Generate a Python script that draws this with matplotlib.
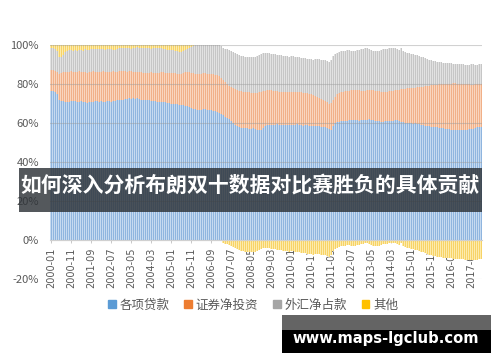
import numpy as np
import pandas as pd
import matplotlib
matplotlib.use('Agg')
import matplotlib.pyplot as plt
from matplotlib.patches import Rectangle, Patch

plt.rcParams['font.family'] = ['Noto Sans CJK SC', 'DejaVu Sans']

# monthly categories 2000-01 .. 2017-12
months = pd.period_range('2000-01', '2017-12', freq='M').strftime('%Y-%m').tolist()
tick_step = 10

series_names = ['各项贷款', '证券净投资', '外汇净占款', '其他']

# shares in percent (100% stacked)
loans = [
    76.5, 76.5, 76, 75, 72, 71.5, 71.5, 71, 71, 71, 71.5, 71.5,
    71.5, 71, 71, 71.5, 71, 71, 70.5, 71, 71, 71, 71.5, 71.5,
    71, 71.5, 71, 71, 71.5, 71.5, 71, 71.5, 71.5, 72, 72, 72,
    72, 72.5, 72.5, 73, 72.5, 73, 72.5, 73, 72.5, 72, 72, 72,
    72, 72, 71.5, 71.5, 71.5, 71, 71, 71, 71, 71, 70.5, 70.5,
    70, 70, 69.5, 69.5, 69, 69, 69, 68.5, 68.5, 68, 67.5, 67,
    67, 66.5, 66.5, 66.5, 67, 67, 66.5, 66.5, 66.5, 66, 66, 65.5,
    65, 64.5, 64, 63, 62.5, 62, 61, 60, 59, 58.5, 58, 57.5,
    57.5, 57.5, 57.5, 57, 57, 57.5, 57, 56.5, 56.5, 56.5, 57.5, 58.5,
    59, 59, 59, 59, 59, 59.5, 59, 59, 59, 59, 59, 59,
    59, 59, 59, 59.5, 59, 59, 58.5, 59, 59, 58.5, 58.5, 58.5,
    58.5, 58.5, 58.5, 58, 58, 58, 57.5, 57, 56.5, 58.5, 60, 60.5,
    60.5, 61, 61, 61, 61, 61.5, 61.5, 61.5, 61.5, 61.5, 61, 61.5,
    61.5, 61.5, 61.5, 62, 61.5, 61.5, 61, 61, 61, 60.5, 60.5, 61,
    61, 61, 61, 61, 61.5, 61.5, 61, 60.5, 60.5, 60, 60, 60,
    60, 59.5, 60, 59.5, 59.5, 59, 59, 58.5, 58.5, 58.5, 58, 58,
    58, 58, 57.5, 57.5, 57.5, 57, 57, 57, 56.5, 56.5, 56.5, 56.5,
    56.5, 56.5, 56.5, 56.5, 56.5, 57, 57, 57, 57.5, 58, 58, 58,
]
securities = [
    10.5, 10.5, 10.5, 11, 13, 14, 14.5, 15, 15, 15, 15, 14.5,
    14.5, 15, 15.5, 14.5, 15, 15, 15, 15, 15, 15.5, 14.5, 14.5,
    15, 14.5, 15.5, 15, 14.5, 14.5, 15, 15, 14.5, 14, 14.5, 14.5,
    14.5, 14, 13.5, 13.5, 14, 13, 13.5, 13, 13.5, 14, 13.5, 13.5,
    13.5, 13.5, 14.5, 14, 14, 14.5, 14.5, 15, 15, 14.5, 15, 15,
    15.5, 15.5, 16, 15.5, 16, 16, 16.5, 17.5, 17.5, 18, 18, 18.5,
    18, 18.5, 18.5, 18.5, 18.5, 18.5, 18.5, 18.5, 18.5, 19, 18.5, 19,
    19, 18.5, 18, 18, 17.5, 17, 17.5, 18, 18.5, 18.5, 18.5, 19,
    18.5, 18.5, 18.5, 19, 18.5, 18, 18.5, 19, 19.5, 19.5, 19, 18,
    18, 18, 18, 17.5, 17.5, 17, 17, 17, 17, 17, 17, 17,
    17, 17, 17, 16.5, 17, 17, 17, 16.5, 16.5, 16.5, 16.5, 16,
    15.5, 15, 14.5, 14.5, 14, 13.5, 13.5, 13, 14, 13.5, 13.5, 14.5,
    15, 15, 15, 15.5, 15.5, 15, 15.5, 15.5, 15.5, 15.5, 16, 15,
    15, 15, 15.5, 15, 15.5, 15.5, 15.5, 15.5, 15.5, 15.5, 15.5, 15,
    15, 15.5, 15.5, 15.5, 15.5, 15.5, 16, 17, 17, 17.5, 18, 18,
    18, 18.5, 18, 19, 19, 19.5, 19.5, 20.5, 20.5, 20.5, 21.5, 21.5,
    21.5, 21.5, 22.5, 22.5, 22.5, 23, 23, 23, 23.5, 24, 24, 23.5,
    23.5, 23.5, 23.5, 23.5, 23.5, 23, 22.5, 22.5, 22.5, 22, 22, 22,
]
fx = [
    11.5, 11.5, 11.5, 11, 9, 8.5, 9, 10.5, 11, 11.5, 11, 11,
    11.5, 11, 11, 11.5, 11, 12, 12, 11.5, 12, 11.5, 12, 12,
    12, 12, 11.5, 11.5, 12, 12, 12, 11, 11.5, 12, 12, 12,
    12, 12, 12.5, 12, 11.5, 12.5, 12.5, 13, 12.5, 12.5, 13, 13,
    13, 13, 12, 13, 13, 13, 13, 12.5, 12, 12.5, 12, 12,
    12, 12, 11.5, 12, 11.5, 11.5, 11.5, 11.5, 12, 12.5, 13.5, 14,
    15, 15, 15, 15, 14.5, 14.5, 15, 15, 15, 15, 15.5, 15.5,
    16, 16.5, 16.5, 17, 18, 18.5, 18.5, 18.5, 18.5, 18.5, 18.5, 18,
    18.5, 18, 18, 18, 18.5, 18.5, 18.5, 19, 19, 19.5, 19.5, 19.5,
    19, 19, 18.5, 19, 19, 18.5, 19, 19, 18.5, 18.5, 18.5, 18,
    18.5, 18.5, 18, 18, 18, 17.5, 18, 18, 17.5, 18, 18, 18,
    19, 19.5, 20, 20, 20.5, 21, 21, 21.5, 22, 22.5, 22, 21,
    21, 21, 21, 20.5, 21, 21, 20, 20, 20, 20.5, 20.5, 21.5,
    21.5, 22, 21.5, 21, 20.5, 20, 20.5, 20.5, 20.5, 21.5, 22, 22,
    22, 22, 22, 22, 21.5, 21, 20.5, 21, 19.5, 19, 18, 18,
    17.5, 17.5, 17, 16.5, 16, 15.5, 15.5, 14.5, 14, 13.5, 13, 12.5,
    12.5, 12, 11.5, 11.5, 11, 11, 11, 11, 11, 10, 10, 10.5,
    10.5, 10.5, 10.5, 10, 10, 10, 10.5, 10.5, 9.5, 10, 10.5, 10.5,
]
other = [
    1.5, 1.5, 2, 3, 6, 6, 5, 3.5, 3, 2.5, 2.5, 3,
    2.5, 3, 2.5, 2.5, 3, 2, 2.5, 2.5, 2, 2, 2, 2,
    2, 2, 2, 2.5, 2, 2, 2, 2.5, 2.5, 2, 1.5, 1.5,
    1.5, 1.5, 1.5, 1.5, 2, 1.5, 1.5, 1, 1.5, 1.5, 1.5, 1.5,
    1.5, 1.5, 2, 1.5, 1.5, 1.5, 1.5, 1.5, 2, 2, 2.5, 2.5,
    2.5, 2.5, 3, 3, 3.5, 3.5, 3, 2.5, 2, 1.5, 1, 0.5,
    0, 0, 0, 0, 0, 0, 0, 0, 0, 0, 0, 0,
    0, -0.5, -1.5, -2, -2, -2.5, -3, -3.5, -4, -4.5, -5, -5.5,
    -5.5, -6, -6, -6, -6, -6, -6, -5.5, -5, -4.5, -4, -4,
    -4, -4, -4.5, -4.5, -4.5, -5, -5, -5, -5.5, -5.5, -5.5, -6,
    -5.5, -5.5, -6, -6, -6, -6.5, -6.5, -6.5, -7, -7, -7, -7.5,
    -7, -7, -7, -7.5, -7.5, -7.5, -8, -8.5, -7.5, -5.5, -4.5, -4,
    -3.5, -3, -3, -3, -2.5, -2.5, -3, -3, -3, -2.5, -2.5, -2,
    -2, -1.5, -1.5, -2, -2.5, -3, -3, -3, -3, -2.5, -2, -2,
    -2, -1.5, -1.5, -1.5, -1.5, -2, -2.5, -1.5, -3, -3.5, -4, -4,
    -4.5, -4.5, -5, -5, -5.5, -6, -6, -6.5, -7, -7.5, -7.5, -8,
    -8, -8.5, -8.5, -8.5, -9, -9, -9, -9, -9, -9.5, -9.5, -9.5,
    -9.5, -9.5, -9.5, -10, -10, -10, -10, -10, -10.5, -10, -9.5, -9.5,
]

legend_colors = ['#5B9BD5', '#ED7D31', '#A5A5A5', '#FFC000']
light_colors = ['#c6daf0', '#f9d6bf', '#e2e2e2', '#fdebad']
stripe_colors = ['#8fb5df', '#f1b088', '#c6c6c6', '#f7d366']

fig = plt.figure(figsize=(5, 3.62), dpi=100)
# 432 px wide -> exactly 2 px per month
ax = fig.add_axes([50 / 500, 1 - 279 / 362, 432 / 500, 234 / 362])

x = np.arange(len(months))
vals = [np.array(v, dtype=float) for v in (loans, securities, fx, other)]

pos_bottom = np.zeros(len(x))
for v, lc, sc in zip(vals, light_colors, stripe_colors):
    bottom = np.where(v >= 0, pos_bottom, 0)
    ax.bar(x, v, width=1.0, bottom=bottom, color=lc, linewidth=0, zorder=2)
    ax.bar(x, v, width=0.5, bottom=bottom, align='edge', color=sc,
           linewidth=0, zorder=2)
    pos_bottom = pos_bottom + np.where(v > 0, v, 0)

# gridlines (visible through the bars)
for yv in range(-20, 101, 20):
    ax.axhline(yv, color='#9a9a9a', lw=0.8, alpha=0.45, zorder=3)

ax.set_xlim(-0.5, len(x) - 0.5)
ax.set_ylim(-20, 100)
ax.set_yticks(range(-20, 101, 20))
ax.set_yticklabels([f'{v}%' for v in range(-20, 101, 20)])
ax.tick_params(axis='y', length=0, pad=8, labelsize=8, labelcolor='#595959')

for s in ['top', 'right', 'left']:
    ax.spines[s].set_visible(False)
ax.spines['bottom'].set_position(('data', 0))
ax.spines['bottom'].set_color('#d0d0d0')
ax.spines['bottom'].set_zorder(4)

ticks = x[::tick_step]
ax.set_xticks(ticks)
ax.set_xticklabels([months[i] for i in ticks], rotation=90)
ax.tick_params(axis='x', length=2.5, width=0.6, color='#bfbfbf', pad=3,
               labelsize=7, labelcolor='#595959')
for lab in ax.get_xticklabels():
    lab.set_family('DejaVu Sans')

handles = [Patch(color=c, label=n) for c, n in zip(legend_colors, series_names)]
fig.legend(handles=handles, loc='center', bbox_to_anchor=(253 / 500, 1 - 305 / 362),
           ncol=4, frameon=False, fontsize=9, handlelength=0.6, handleheight=0.6,
           handletextpad=0.3, columnspacing=1.2, labelcolor='#595959')

# title banner over the chart
fig.add_artist(Rectangle((19 / 500, 1 - 212 / 362), 463 / 500, 44 / 362,
                         transform=fig.transFigure, facecolor='#2e3338',
                         alpha=0.82, lw=0, zorder=10))
fig.text(0.5, 1 - 185 / 362, '如何深入分析布朗双十数据对比赛胜负的具体贡献',
         color='white', fontsize=15, fontweight='bold', ha='center', va='center', zorder=11)

# watermark box
fig.add_artist(Rectangle((282 / 500, 1 - 330 / 362), 209 / 500, 15 / 362,
                         transform=fig.transFigure, facecolor='#646464', lw=0, zorder=10))
fig.add_artist(Rectangle((282 / 500, 1 - 353 / 362), 209 / 500, 23 / 362,
                         transform=fig.transFigure, facecolor='black', lw=0, zorder=10))
fig.text(386 / 500, 1 - 338 / 362, 'www.maps-lgclub.com', color='white',
         fontsize=10.6, fontweight='bold', family='DejaVu Sans',
         ha='center', va='center', zorder=11)

fig.savefig('out.png', dpi=100)
